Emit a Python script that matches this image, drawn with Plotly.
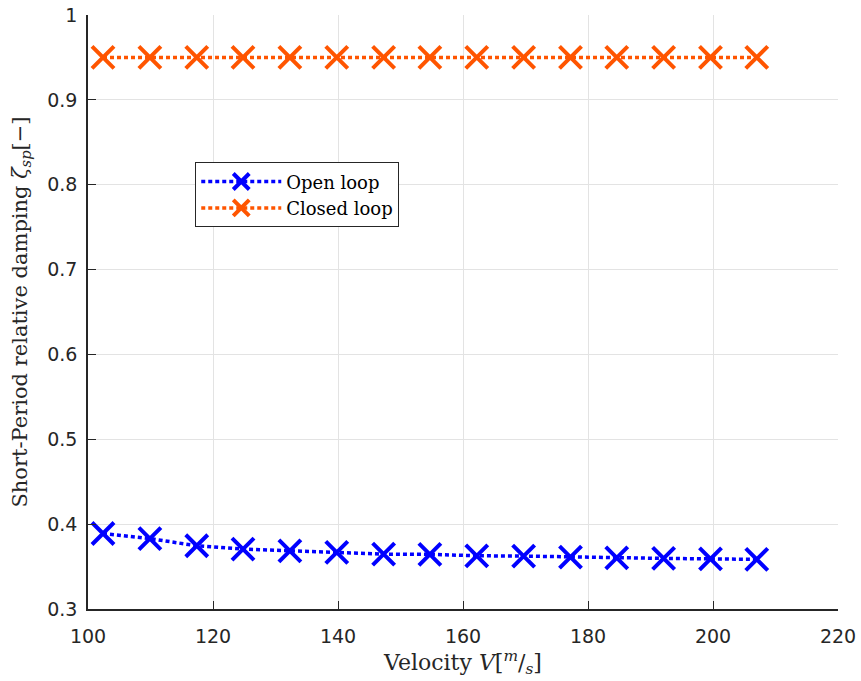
import plotly.graph_objects as go

velocity = [102.4, 109.9, 117.4, 124.8, 132.3, 139.8, 147.3, 154.7,
            162.2, 169.7, 177.2, 184.6, 192.1, 199.6, 207.0]
open_loop = [0.389, 0.383, 0.3745, 0.3706, 0.3686, 0.3667, 0.3647, 0.3644,
             0.3627, 0.3624, 0.3612, 0.3603, 0.3596, 0.3591, 0.3585]
closed_loop = [0.95] * 15
x_ticks = [100, 120, 140, 160, 180, 200, 220]
y_ticks = [0.3, 0.4, 0.5, 0.6, 0.7, 0.8, 0.9, 1.0]
y_ticktext = ["0.3", "0.4", "0.5", "0.6", "0.7", "0.8", "0.9", "1"]

BLUE = "#0000FF"
ORANGE = "#FF5500"
AX = "#262626"
SERIF = "DejaVu Serif, Liberation Serif, serif"
SANS = "DejaVu Sans, Liberation Sans, sans-serif"

fig = go.Figure()
fig.add_trace(go.Scatter(
    x=velocity, y=open_loop, mode="lines+markers", name="Open loop",
    legendgroup="a",
    line=dict(color=BLUE, width=3.5, dash="4px,3px"),
    marker=dict(symbol="x-thin", size=22, color=BLUE,
                line=dict(color=BLUE, width=4)),
))
fig.add_trace(go.Scatter(
    x=velocity, y=closed_loop, mode="lines+markers", name="Closed loop",
    legendgroup="b",
    line=dict(color=ORANGE, width=3.5, dash="4px,3px"),
    marker=dict(symbol="x-thin", size=22, color=ORANGE,
                line=dict(color=ORANGE, width=4)),
))

fig.update_layout(
    width=861, height=681,
    margin=dict(l=88, r=23, t=15, b=72),
    plot_bgcolor="white", paper_bgcolor="white",
    showlegend=True,
    legend=dict(
        x=0.143, y=0.752, xanchor="left", yanchor="top",
        bgcolor="white", bordercolor=AX, borderwidth=1,
        font=dict(family=SERIF, size=18, color="black"),
        tracegroupgap=0, itemwidth=80,
    ),
)
fig.update_xaxes(
    range=[100, 220], tickvals=x_ticks, automargin=False,
    showgrid=True, gridcolor="#e3e3e3", gridwidth=1.3,
    showline=True, linecolor=AX, linewidth=1.5,
    ticks="inside", ticklen=8, tickcolor=AX, tickwidth=1.3,
    ticklabelstandoff=9,
    tickfont=dict(family=SANS, size=19, color=AX),
    zeroline=False,
    title=dict(text="Velocity <i>V</i>[<sup><i>m</i></sup>/<sub><i>s</i></sub>]",
               font=dict(family=SERIF, size=22, color=AX),
               standoff=3),
)
fig.update_yaxes(
    range=[0.3, 1.0], tickvals=y_ticks, ticktext=y_ticktext, automargin=False,
    showgrid=True, gridcolor="#e3e3e3", gridwidth=1.3,
    showline=True, linecolor=AX, linewidth=1.5,
    ticks="inside", ticklen=8, tickcolor=AX, tickwidth=1.3,
    ticklabelstandoff=5,
    tickfont=dict(family=SANS, size=19, color=AX),
    zeroline=False,
    title=dict(text="Short-Period relative damping <i>ζ</i><sub><i>sp</i></sub>[−]",
               font=dict(family=SERIF, size=21, color=AX),
               standoff=14),
)

fig.write_html("out.html")
